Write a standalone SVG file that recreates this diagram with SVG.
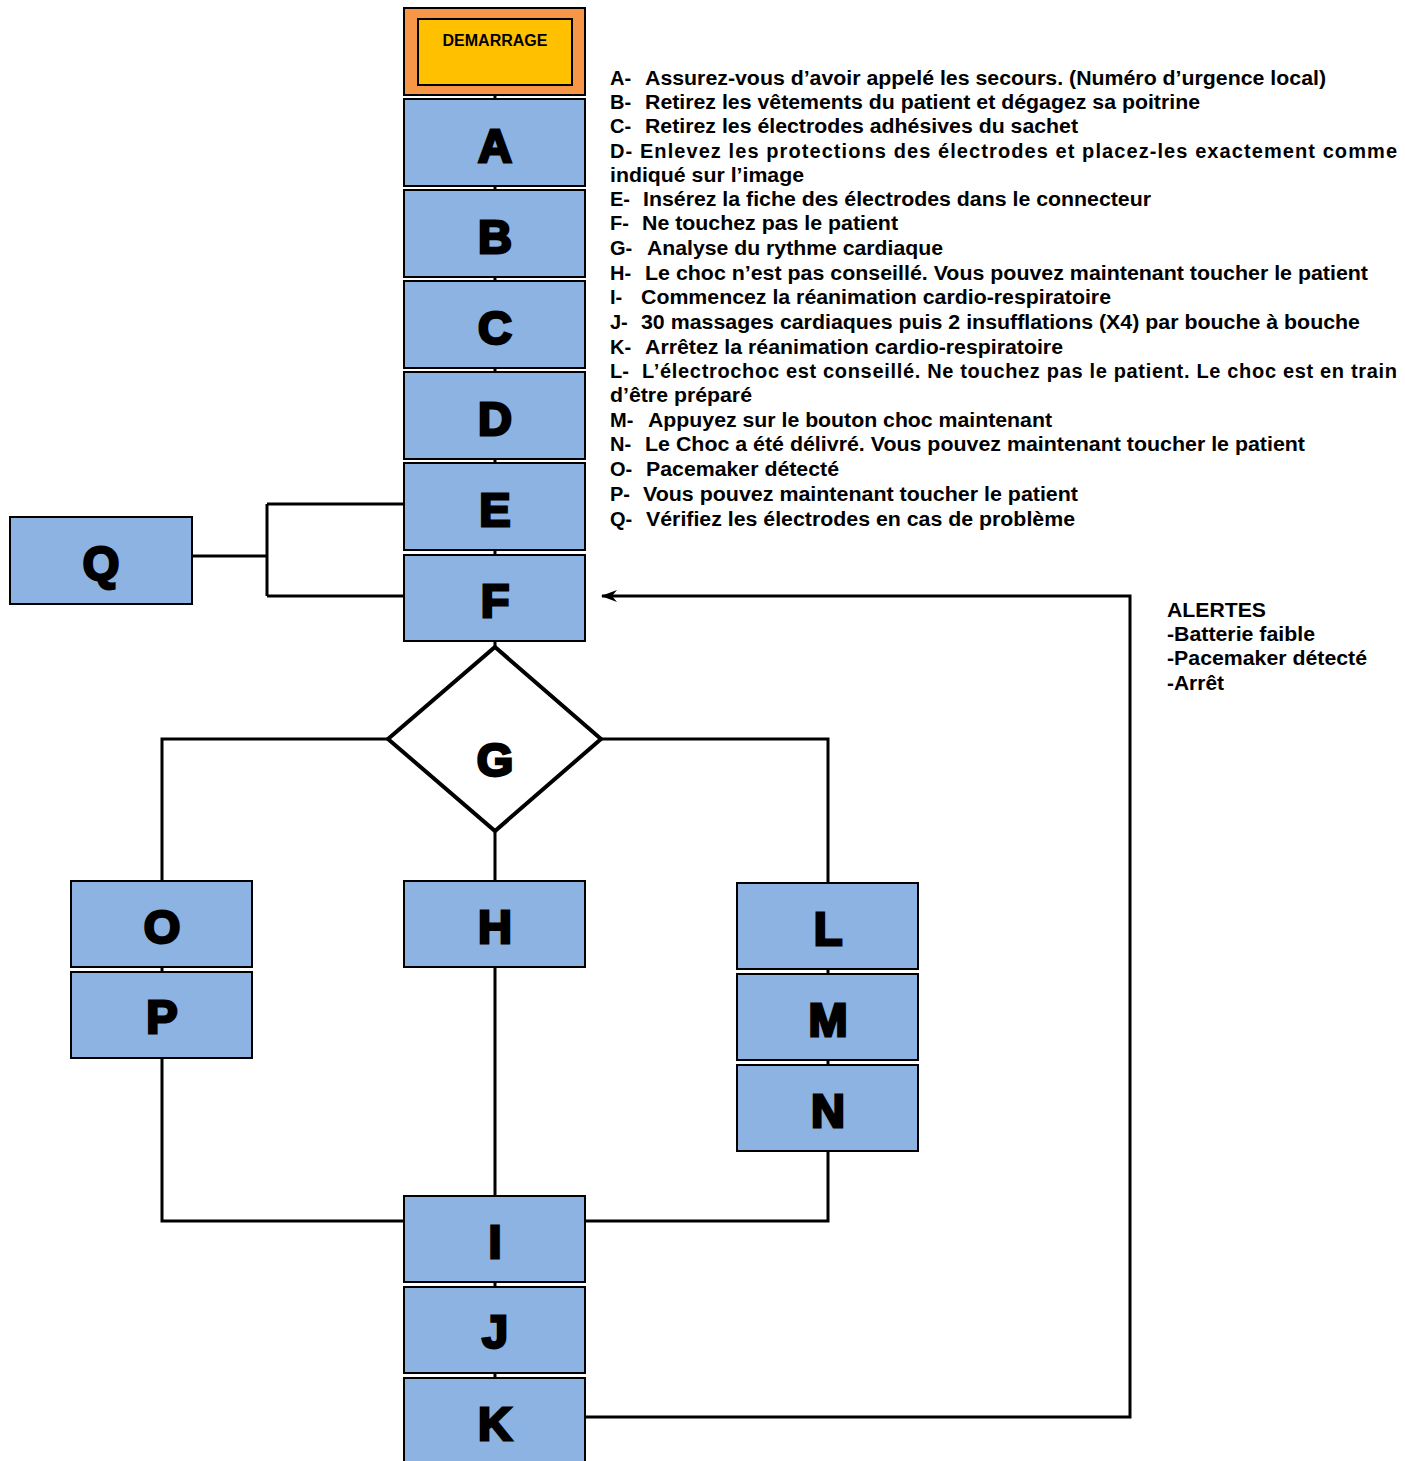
<svg xmlns="http://www.w3.org/2000/svg" width="1405" height="1461" viewBox="0 0 1405 1461">
<defs>
<style>
.box{fill:#8DB3E2;stroke:#000;stroke-width:2}
.lbl{font-family:"Liberation Sans",Arial,sans-serif;font-weight:bold;font-size:47px;fill:#000;stroke:#000;stroke-width:2.8;text-anchor:middle}
.ln{fill:none;stroke:#000;stroke-width:3}
.txt{font-family:"Liberation Sans",Arial,sans-serif;font-weight:bold;font-size:20px;fill:#000}
</style>
<marker id="arr" viewBox="0 0 16 12" refX="15" refY="6" markerWidth="16" markerHeight="12" markerUnits="userSpaceOnUse" orient="auto">
<path d="M16,6 L0,0 L5,6 L0,12 Z" fill="#000"/>
</marker>
</defs>
<rect width="1405" height="1461" fill="#fff"/>
<g id="connectors">
<path class="ln" d="M495,95 V99 M495,186 V190 M495,277 V281 M495,368 V372 M495,459 V463 M495,550 V555 M495,641 V647"/>
<path class="ln" d="M192,556 H267 M267,504 V596 M267,504 H404 M267,596 H404"/>
<path class="ln" d="M388,739 H162 V881 M601,739 H828 V883 M495,831 V881"/>
<path class="ln" d="M162,967 V972 M828,969 V974 M828,1060 V1065 M495,1282 V1287 M495,1373 V1378"/>
<path class="ln" d="M495,967 V1196 M162,1058 V1221 H404 M828,1151 V1221 H585"/>
<path class="ln" d="M585,1417 H1130 V596 H602" marker-end="url(#arr)"/>
</g>
<g id="start">
<rect x="404" y="8" width="181" height="87" fill="#F79646" stroke="#000" stroke-width="2"/>
<rect x="418" y="19" width="154" height="66" fill="#FFC000" stroke="#000" stroke-width="2"/>
<text x="495" y="46" text-anchor="middle" font-family="Liberation Sans, Arial, sans-serif" font-weight="bold" font-size="16">DEMARRAGE</text>
</g>
<g id="nA"><rect class="box" x="404" y="99" width="181" height="87"/><text class="lbl" x="495" y="162">A</text></g>
<g id="nB"><rect class="box" x="404" y="190" width="181" height="87"/><text class="lbl" x="495" y="253">B</text></g>
<g id="nC"><rect class="box" x="404" y="281" width="181" height="87"/><text class="lbl" x="495" y="344">C</text></g>
<g id="nD"><rect class="box" x="404" y="372" width="181" height="87"/><text class="lbl" x="495" y="435">D</text></g>
<g id="nE"><rect class="box" x="404" y="463" width="181" height="87"/><text class="lbl" x="495" y="526">E</text></g>
<g id="nF"><rect class="box" x="404" y="555" width="181" height="86"/><text class="lbl" x="495" y="617">F</text></g>
<g id="nQ"><rect class="box" x="10" y="517" width="182" height="87"/><text class="lbl" x="101" y="579">Q</text></g>
<g id="nG"><polygon points="495,647 601,739 495,831 388,739" fill="#fff" stroke="#000" stroke-width="4" stroke-linejoin="miter"/><text class="lbl" x="495" y="776">G</text></g>
<g id="nO"><rect class="box" x="71" y="881" width="181" height="86"/><text class="lbl" x="162" y="943">O</text></g>
<g id="nP"><rect class="box" x="71" y="972" width="181" height="86"/><text class="lbl" x="162" y="1033">P</text></g>
<g id="nH"><rect class="box" x="404" y="881" width="181" height="86"/><text class="lbl" x="495" y="943">H</text></g>
<g id="nL"><rect class="box" x="737" y="883" width="181" height="86"/><text class="lbl" x="828" y="945">L</text></g>
<g id="nM"><rect class="box" x="737" y="974" width="181" height="86"/><text class="lbl" x="828" y="1036">M</text></g>
<g id="nN"><rect class="box" x="737" y="1065" width="181" height="86"/><text class="lbl" x="828" y="1127">N</text></g>
<g id="nI"><rect class="box" x="404" y="1196" width="181" height="86"/><text class="lbl" x="495" y="1258">I</text></g>
<g id="nJ"><rect class="box" x="404" y="1287" width="181" height="86"/><text class="lbl" x="495" y="1348">J</text></g>
<g id="nK"><rect class="box" x="404" y="1378" width="181" height="90"/><text class="lbl" x="495" y="1440">K</text></g>
<g id="legend" class="txt">
<text y="85"><tspan x="610">A-</tspan><tspan x="645" textLength="681" lengthAdjust="spacingAndGlyphs">Assurez-vous d’avoir appelé les secours. (Numéro d’urgence local)</tspan></text>
<text y="109"><tspan x="610">B-</tspan><tspan x="645" textLength="555" lengthAdjust="spacingAndGlyphs">Retirez les vêtements du patient et dégagez sa poitrine</tspan></text>
<text y="133"><tspan x="610">C-</tspan><tspan x="645" textLength="433" lengthAdjust="spacingAndGlyphs">Retirez les électrodes adhésives du sachet</tspan></text>
<text y="158" x="610" textLength="787" lengthAdjust="spacing">D- Enlevez les protections des électrodes et placez-les exactement comme</text>
<text y="182" x="610" textLength="194" lengthAdjust="spacingAndGlyphs">indiqué sur l’image</text>
<text y="206"><tspan x="610">E-</tspan><tspan x="643" textLength="508" lengthAdjust="spacingAndGlyphs">Insérez la fiche des électrodes dans le connecteur</tspan></text>
<text y="230"><tspan x="610">F-</tspan><tspan x="642" textLength="256" lengthAdjust="spacingAndGlyphs">Ne touchez pas le patient</tspan></text>
<text y="255"><tspan x="610">G-</tspan><tspan x="647" textLength="296" lengthAdjust="spacingAndGlyphs">Analyse du rythme cardiaque</tspan></text>
<text y="280"><tspan x="610">H-</tspan><tspan x="645" textLength="723" lengthAdjust="spacingAndGlyphs">Le choc n’est pas conseillé. Vous pouvez maintenant toucher le patient</tspan></text>
<text y="304"><tspan x="610">I-</tspan><tspan x="641" textLength="470" lengthAdjust="spacingAndGlyphs">Commencez la réanimation cardio-respiratoire</tspan></text>
<text y="329"><tspan x="610">J-</tspan><tspan x="641" textLength="719" lengthAdjust="spacingAndGlyphs">30 massages cardiaques puis 2 insufflations (X4) par bouche à bouche</tspan></text>
<text y="354"><tspan x="610">K-</tspan><tspan x="645" textLength="418" lengthAdjust="spacingAndGlyphs">Arrêtez la réanimation cardio-respiratoire</tspan></text>
<text y="378"><tspan x="610">L-</tspan><tspan x="642" textLength="755" lengthAdjust="spacing">L’électrochoc est conseillé. Ne touchez pas le patient. Le choc est en train</tspan></text>
<text y="402" x="610" textLength="142" lengthAdjust="spacingAndGlyphs">d’être préparé</text>
<text y="427"><tspan x="610">M-</tspan><tspan x="648" textLength="404" lengthAdjust="spacingAndGlyphs">Appuyez sur le bouton choc maintenant</tspan></text>
<text y="451"><tspan x="610">N-</tspan><tspan x="645" textLength="660" lengthAdjust="spacingAndGlyphs">Le Choc a été délivré. Vous pouvez maintenant toucher le patient</tspan></text>
<text y="476"><tspan x="610">O-</tspan><tspan x="646" textLength="193" lengthAdjust="spacingAndGlyphs">Pacemaker détecté</tspan></text>
<text y="501"><tspan x="610">P-</tspan><tspan x="643" textLength="435" lengthAdjust="spacingAndGlyphs">Vous pouvez maintenant toucher le patient</tspan></text>
<text y="526"><tspan x="610">Q-</tspan><tspan x="646" textLength="429" lengthAdjust="spacingAndGlyphs">Vérifiez les électrodes en cas de problème</tspan></text>
</g>
<g id="alerts" class="txt">
<text x="1167" y="617" textLength="99" lengthAdjust="spacingAndGlyphs">ALERTES</text>
<text x="1167" y="641" textLength="148" lengthAdjust="spacingAndGlyphs">-Batterie faible</text>
<text x="1167" y="665" textLength="200" lengthAdjust="spacingAndGlyphs">-Pacemaker détecté</text>
<text x="1167" y="690" textLength="57" lengthAdjust="spacingAndGlyphs">-Arrêt</text>
</g>
</svg>
